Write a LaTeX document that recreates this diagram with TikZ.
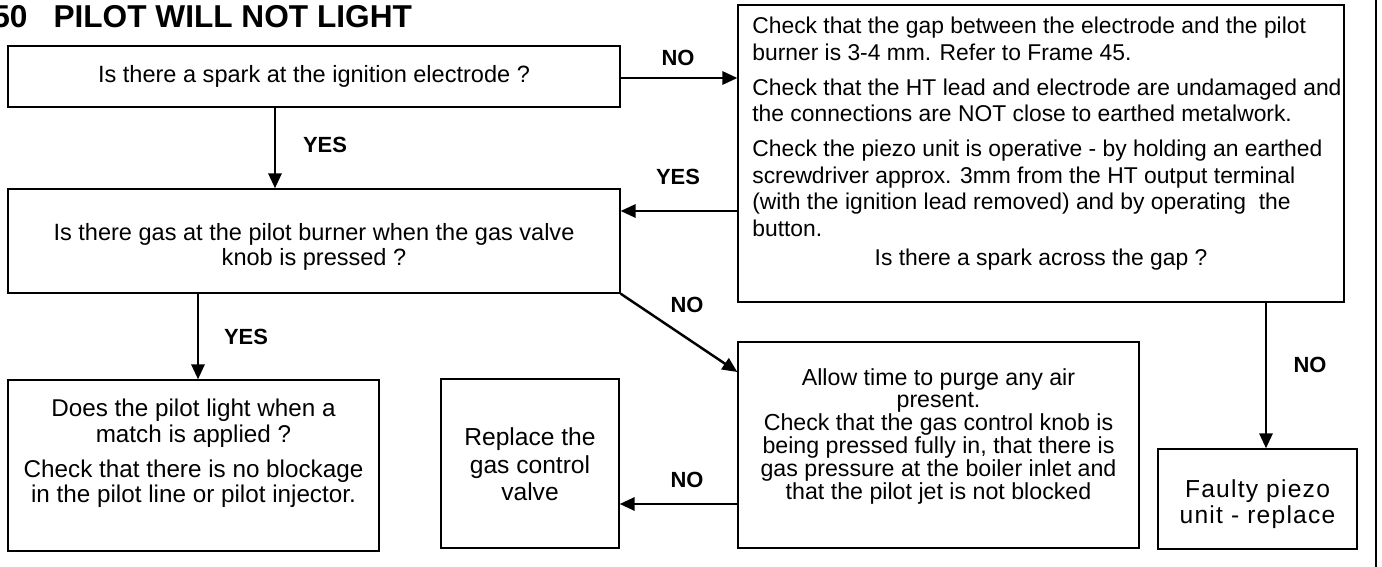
\documentclass[tikz,border=0pt]{standalone}
\usepackage{fontspec}
\setmainfont{Liberation Sans}
\usetikzlibrary{arrows.meta, positioning, calc}

\begin{document}
\begin{tikzpicture}[
    x=0.02cm, y=-0.02cm, % one unit is one pixel of the page, y runs down
    >={Triangle[length=8.5pt,width=7.5pt]}, % filled arrow heads
    box/.style={draw, line width=0.8pt, inner sep=0pt, align=center}, % step boxes
    txt/.style={inner sep=0pt, font=\fontsize{13}{15.2}\selectfont}, % text inside a box
    arr/.style={->, line width=1.4pt}, % connectors
    answer/.style={inner sep=0pt, font=\fontsize{12.5}{14}\selectfont\bfseries} % YES / NO
]
    \useasboundingbox (0,0) rectangle (1382,567);

    % Heading
    \node[anchor=base west, inner sep=0pt, font=\fontsize{18}{20}\selectfont\bfseries]
        (title) at (-8,28) {50\hspace{14.8pt}PILOT WILL NOT LIGHT};

    % Boxes
    \node[box, minimum width=12.24cm, minimum height=1.22cm] (ask1) at (314,76.5) {};
    \node[box, minimum width=12.24cm, minimum height=2.08cm] (ask2) at (314,241) {};
    \node[box, minimum width=12.12cm, minimum height=5.94cm] (check) at (1041,153.5) {};
    \node[box, minimum width=7.42cm, minimum height=3.42cm] (match) at (193.5,465.5) {};
    \node[box, minimum width=3.56cm, minimum height=3.38cm] (valve) at (530,463.5) {};
    \node[box, minimum width=8.02cm, minimum height=4.12cm] (purge) at (938.5,445) {};
    \node[box, minimum width=3.98cm, minimum height=2cm] (piezo) at (1257.5,499) {};

    % Texts of the boxes
    \node[txt, font=\fontsize{13.4}{15.2}\selectfont] (ask1txt) at (ask1)
        {Is there a spark at the ignition electrode ?};
    \node[txt, align=center, font=\fontsize{13.4}{14.7}\selectfont] (ask2txt) at (314,247)
        {Is there gas at the pilot burner when the gas valve\\knob is pressed ?};
    \node[txt, anchor=north west, align=left, font=\fontsize{13}{15.1}\selectfont]
        (checktxt) at (752,17)
        {Check that the gap between the electrode and the pilot\\
         burner is 3-4 mm. Refer to Frame 45.\\[4.7pt]
         Check that the HT lead and electrode are undamaged and\\
         the connections are NOT close to earthed metalwork.\\[4.7pt]
         Check the piezo unit is operative - by holding an earthed\\
         screwdriver approx. 3mm from the HT output terminal\\
         (with the ignition lead removed) and by operating\ \ the\\
         button.};
    \node[txt] (checkq) at (1041,260) {Is there a spark across the gap ?};
    \node[txt, anchor=north, align=center, font=\fontsize{13.8}{14.5}\selectfont]
        (matchtxt) at (193.5,399)
        {Does the pilot light when a\\match is applied ?\\[5.3pt]
         Check that there is no blockage\\in the pilot line or pilot injector.};
    \node[txt, align=center, font=\fontsize{14}{15.6}\selectfont] (valvetxt) at (530,464.5)
        {Replace the\\gas control\\valve};
    \node[txt, anchor=north, align=center, font=\fontsize{13.2}{13}\selectfont]
        (purgetxt) at (938.5,368)
        {Allow time to purge any air\\present.\\Check that the gas control knob is\\
         being pressed fully in, that there is\\gas pressure at the boiler inlet and\\
         that the pilot jet is not blocked};
    \node[txt, align=center, font=\fontsize{14}{14.4}\selectfont\addfontfeatures{LetterSpace=5}]
        (piezotxt) at (1257.5,504)
        {Faulty piezo\\unit - replace};

    % Levels of the connectors
    \coordinate (noA) at (678,78);
    \coordinate (yesA) at (275,148);
    \coordinate (yesB) at (678,211);
    \coordinate (noB) at (737,372);
    \coordinate (yesC) at (198,337);
    \coordinate (noC) at (687,504);
    \coordinate (noD) at (1266,365);

    % Connectors
    \draw[arr] (ask1.east |- noA) -- (check.west |- noA);
    \draw[arr] (ask1.south -| yesA) -- (ask2.north -| yesA);
    \draw[arr] (check.west |- yesB) -- (ask2.east |- yesB);
    \draw[arr] (ask2.south east) -- (purge.west |- noB);
    \draw[arr] (ask2.south -| yesC) -- (match.north -| yesC);
    \draw[arr] (purge.west |- noC) -- (valve.east |- noC);
    \draw[arr] (check.south -| noD) -- (piezo.north -| noD);

    % Answers
    \node[answer] (lblnoA) at (678,58) {NO};
    \node[answer] (lblyesA) at (325,145) {YES};
    \node[answer] (lblyesB) at (678,177) {YES};
    \node[answer] (lblnoB) at (687,305) {NO};
    \node[answer] (lblyesC) at (246,337) {YES};
    \node[answer] (lblnoC) at (687,480) {NO};
    \node[answer] (lblnoD) at (1310,365) {NO};

    % Page edge
    \draw[line width=1.5pt] (1376,0) -- (1376,567);
\end{tikzpicture}
\end{document}
